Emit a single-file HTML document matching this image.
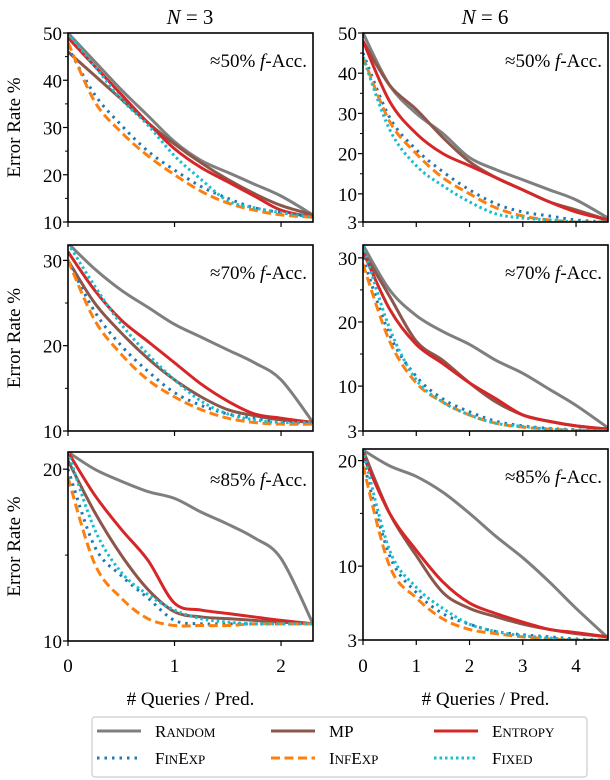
<!DOCTYPE html>
<html><head><meta charset="utf-8">
<style>
body{margin:0;background:#fff;}
svg{display:block;font-family:"Liberation Serif",serif;}
</style></head>
<body>
<svg id="chart" width="610" height="780" viewBox="0 0 610 780" xmlns="http://www.w3.org/2000/svg"></svg>
<script>
const xsLeft = [0,0.25,0.5,0.75,1,1.25,1.5,1.75,2,2.3];
const xsRight = [0,0.5,1,1.5,2,2.5,3,3.5,4,4.6];
const seriesNames = ["random","mp","entropy","finexp","infexp","fixed"];
const p1 = [[50,44,38,32.5,27,23,20.5,18,15.5,11.5],[46,41,36,31,26.5,22.5,19,16,13.5,11.5],[49,43,37,31,25.5,21.5,18.5,15.5,12.5,11],[47,37,30.5,25,21,17.5,15,13,12,11],[48,35.5,29,24,20,16.5,14,12.5,11.5,11],[50,43,36,30.5,24,19,14.5,13,12,11]];
const p2 = [[50,37,30,25,19,16,13.5,11,8.5,4],[48,37,31,24,18,14,11,8,6,3.5],[48,33,25,20,17,14,11,8,5.5,3.5],[45,29,21,15.5,11,7.5,5.5,4.5,3.5,3],[44,28,20,14,10,6.5,4.5,3.5,3,3],[44,26,17,12,8,5,4,3.5,3,3]];
const p3 = [[32,29,26.5,24.5,22.5,21,19.5,18,16,11],[30,25,21.5,18.5,16,14,12.5,11.8,11.3,11],[31,26.5,23,20.5,18,15.5,13.5,12,11.5,11],[30,24,20,17,14.5,13,12,11.5,11,11],[30,23,19,16,14,12.5,11.5,11,10.8,10.8],[32,27,22.5,19,16,13.5,12,11.3,11,11]];
const p4 = [[32,25,21,18.5,16.5,14,12,9.5,7,3.5],[31,24,17,14,10.5,7.5,5.5,4.5,3.8,3.3],[31,22,16.5,13.5,10.5,8,5.5,4.5,3.8,3.3],[30,18,11.5,8,6,4.5,3.8,3.4,3.2,3],[29,17,10.5,7.5,5.5,4.2,3.6,3.3,3.1,3],[32,19,11,7.5,5.5,4.2,3.7,3.3,3.1,3]];
const p5 = [[21,20,19.3,18.7,18.3,17.5,16.8,16,14.8,11],[20.5,17.5,15,13,11.7,11.4,11.3,11.2,11.1,11],[21,18.5,16.5,14.7,12.2,11.8,11.6,11.4,11.2,11],[20,15.5,13.8,12.5,11.2,11,11,11,11,11],[19.5,14.5,12.5,11.3,10.9,10.9,10.9,11,11,11],[21,16.5,14,12.7,11.8,11.3,11.1,11,11,11]];
const p6 = [[21,19.5,18.5,17,15,12.8,10.8,8.5,6,3.2],[21,15,11,7.5,6,5.2,4.5,4,3.6,3.3],[20.5,15,11.5,8.5,6.5,5.5,4.7,4,3.7,3.3],[20,11,7.5,5.5,4.5,3.8,3.5,3.3,3.1,3],[19.5,10,7,5,4,3.6,3.3,3.1,3,3],[21,11.5,8,6,4.5,3.8,3.4,3.2,3,3]];
const yTicksLeft1 = [10,20,30,40,50];
const yTicksLeft2 = [10,20,30];
const yTicksLeft3 = [10,20];
const yTicksRight1 = [3,10,20,30,40,50];
const yTicksRight2 = [3,10,20,30];
const yTicksRight3 = [3,10,20];
const xTicksLeft = [0,1,2];
const xTicksRight = [0,1,2,3,4];
const annotations = ["≈50%","≈70%","≈85%"];

const NS="http://www.w3.org/2000/svg";
const svg=document.getElementById('chart');
function mk(t,a,parent){const e=document.createElementNS(NS,t);for(const k in a)e.setAttribute(k,a[k]);(parent||svg).appendChild(e);return e;}
const styles=[
 {c:"#7f7f7f",d:null},{c:"#8c564b",d:null},{c:"#d62728",d:null},
 {c:"#1f77b4",d:"2.5 5"},{c:"#ff7f0e",d:"9 4.5"},{c:"#17becf",d:"2.5 3"}];
const panels=[
 {x0:68,x1:313,y0:33,y1:222,xmax:2.3,ymin:10,ymax:50,xs:xsLeft,d:p1,yt:yTicksLeft1,xt:xTicksLeft,minor:5,ann:0,left:true,bottom:false},
 {x0:363,x1:608,y0:33,y1:222,xmax:4.6,ymin:3,ymax:50,xs:xsRight,d:p2,yt:yTicksRight1,xt:xTicksRight,minor:5,ann:0,left:false,bottom:false},
 {x0:68,x1:313,y0:245,y1:431,xmax:2.3,ymin:10,ymax:31.8,xs:xsLeft,d:p3,yt:yTicksLeft2,xt:xTicksLeft,minor:5,ann:1,left:true,bottom:false},
 {x0:363,x1:608,y0:245,y1:431,xmax:4.6,ymin:3,ymax:32,xs:xsRight,d:p4,yt:yTicksRight2,xt:xTicksRight,minor:5,ann:1,left:false,bottom:false},
 {x0:68,x1:313,y0:452,y1:641,xmax:2.3,ymin:10,ymax:21,xs:xsLeft,d:p5,yt:yTicksLeft3,xt:xTicksLeft,minor:5,ann:2,left:true,bottom:true},
 {x0:363,x1:608,y0:449,y1:640,xmax:4.6,ymin:3,ymax:21.1,xs:xsRight,d:p6,yt:yTicksRight3,xt:xTicksRight,minor:5,ann:2,left:false,bottom:true}];
function smooth(pts){let s=`M${pts[0][0]},${pts[0][1]}`;for(let i=0;i<pts.length-1;i++){const p0=pts[Math.max(0,i-1)],p1=pts[i],p2=pts[i+1],p3=pts[Math.min(pts.length-1,i+2)];s+=` C${p1[0]+(p2[0]-p0[0])/6},${p1[1]+(p2[1]-p0[1])/6} ${p2[0]-(p3[0]-p1[0])/6},${p2[1]-(p3[1]-p1[1])/6} ${p2[0]},${p2[1]}`;}return s;}
panels.forEach((P,pi)=>{
 const g=mk('g',{});
 
 
 const sx=v=>P.x0+(v/P.xmax)*(P.x1-P.x0);
 const sy=v=>P.y1-(v-P.ymin)/(P.ymax-P.ymin)*(P.y1-P.y0);
 const cp=mk('clipPath',{id:'c'+pi},g);mk('rect',{x:P.x0,y:P.y0,width:P.x1-P.x0,height:P.y1-P.y0},cp);
 P.d.forEach((vals,si)=>{
  const pts=vals.map((v,i)=>[sx(P.xs[i]),sy(v)]);
  const a={d:smooth(pts),fill:'none',stroke:styles[si].c,'stroke-width':3,'clip-path':`url(#c${pi})`};
  if(styles[si].d)a['stroke-dasharray']=styles[si].d;
  const path=mk('path',a,g);
  
  
 });
 mk('rect',{x:P.x0,y:P.y0,width:P.x1-P.x0,height:P.y1-P.y0,fill:'none',stroke:'#000','stroke-width':1.6},g);
 P.yt.forEach((t,i)=>{const y=sy(t);mk('line',{x1:P.x0-5,x2:P.x0,y1:y,y2:y,stroke:'#000','stroke-width':1.2},g);
  const tx=mk('text',{x:P.x0-6,y:y+7,'text-anchor':'end','font-size':19},g);tx.textContent=t;
  
  if(i<P.yt.length-1&&t%10===0){const m=sy(t+P.minor);if(m>=P.y0)mk('line',{x1:P.x0-3,x2:P.x0,y1:m,y2:m,stroke:'#000','stroke-width':1},g);}});
 P.xt.forEach(t=>{const x=sx(t);mk('line',{x1:x,x2:x,y1:P.y1,y2:P.y1+5,stroke:'#000','stroke-width':1.2},g);
  if(P.bottom){const tx=mk('text',{x:x,y:672,'text-anchor':'middle','font-size':19},g);tx.textContent=t;
  }});
 const an=mk('text',{x:P.x1-6,y:P.y0+34,'text-anchor':'end','font-size':19},g);
 an.innerHTML=annotations[P.ann]+' <tspan font-style="italic">f</tspan>-Acc.';
 
 if(P.left){const yl=mk('text',{transform:`translate(20,${(P.y0+P.y1)/2}) rotate(-90)`,'text-anchor':'middle','font-size':19},g);yl.textContent='Error Rate %';
  }
 if(P.bottom){const xl=mk('text',{x:(P.x0+P.x1)/2,y:705,'text-anchor':'middle','font-size':19},g);xl.textContent='# Queries / Pred.';
  }
});
[[190,'3'],[485,'6']].forEach(([x,n])=>{const t=mk('text',{x:x,y:24,'text-anchor':'middle','font-size':21});t.innerHTML='<tspan font-style="italic">N</tspan> = '+n;
 });
const lg=mk('g',{});


mk('rect',{x:92,y:717,width:495,height:60,rx:3,fill:'#fff',stroke:'#ccc','stroke-width':1.2},lg);
const labels=[["R","ANDOM"],["MP",""],["E","NTROPY"],["F","IN","E","XP"],["I","NF","E","XP"],["F","IXED"]];
const colX=[97,271,434];
seriesNames.forEach((n,i)=>{
 const col=i%3,row=Math.floor(i/3);
 const x=colX[col],y=731+row*27;
 const e=mk('g',{},lg);
 
 
 const a={x1:x,x2:x+44,y1:y,y2:y,stroke:styles[i].c,'stroke-width':3};if(styles[i].d)a['stroke-dasharray']=styles[i].d;mk('line',a,e);
 const t=mk('text',{x:x+58,y:y+6,'font-size':17},e);
 const L=labels[i];let h='';for(let k=0;k<L.length;k+=2){h+=L[k]+(L[k+1]?`<tspan font-size="13">${L[k+1]}</tspan>`:'');}
 t.innerHTML=h;
});
</script>
</body></html>
